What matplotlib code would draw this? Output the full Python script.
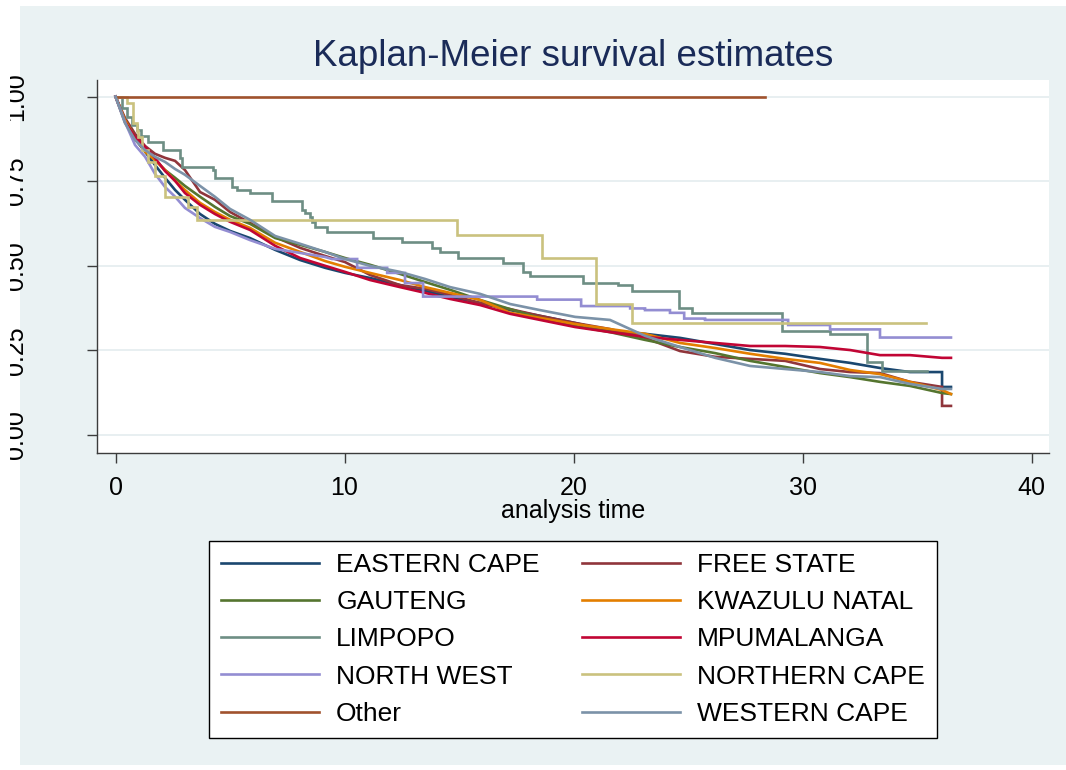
import matplotlib
matplotlib.use("Agg")
import matplotlib.pyplot as plt
from matplotlib.patches import Rectangle
from matplotlib.lines import Line2D
from matplotlib.transforms import Bbox, blended_transform_factory

plt.rcParams['font.family'] = ['Liberation Sans', 'DejaVu Sans']

# ---- survival estimates by province (analysis time, S(t)) ----
grid_t = [0, 0.41, 0.85, 1.29, 1.72, 2.16, 2.60, 3.03, 3.69, 4.34, 5.00, 5.87,
          6.97, 8.06, 9.15, 10.02, 11.11, 12.42, 13.52, 14.61, 15.92, 17.23,
          18.54, 20.07, 21.59, 23.12, 24.65, 26.18, 27.71, 29.24, 30.76, 32.08,
          33.38, 34.69, 36.09, 36.48]
drop_t = grid_t[:-1] + [36.09, 36.48]

ec_t = drop_t
ec_s = [1.0, 0.928, 0.875, 0.837, 0.798, 0.760, 0.724, 0.695, 0.653, 0.624, 0.603,
        0.582, 0.547, 0.517, 0.494, 0.479, 0.464, 0.443, 0.426, 0.408, 0.390, 0.369,
        0.352, 0.331, 0.307, 0.299, 0.287, 0.269, 0.251, 0.240, 0.225, 0.213, 0.198,
        0.186, 0.186, 0.142, 0.142]

fs_t = drop_t
fs_s = [1.0, 0.937, 0.890, 0.854, 0.831, 0.819, 0.810, 0.783, 0.718, 0.695, 0.659,
        0.627, 0.585, 0.553, 0.529, 0.511, 0.473, 0.443, 0.432, 0.414, 0.390, 0.372,
        0.352, 0.331, 0.313, 0.287, 0.248, 0.231, 0.225, 0.219, 0.195, 0.186, 0.183,
        0.157, 0.142, 0.086, 0.086]

gt_t = grid_t
gt_s = [1.0, 0.931, 0.881, 0.837, 0.813, 0.783, 0.760, 0.736, 0.704, 0.674, 0.647,
        0.624, 0.582, 0.562, 0.541, 0.523, 0.503, 0.476, 0.452, 0.429, 0.399, 0.372,
        0.346, 0.322, 0.304, 0.281, 0.260, 0.242, 0.219, 0.201, 0.183, 0.171, 0.157,
        0.145, 0.124, 0.121]

kzn_t = grid_t
kzn_s = [1.0, 0.931, 0.878, 0.837, 0.813, 0.783, 0.751, 0.724, 0.686, 0.659, 0.636,
         0.612, 0.568, 0.541, 0.514, 0.497, 0.479, 0.458, 0.437, 0.420, 0.399, 0.361,
         0.346, 0.328, 0.313, 0.299, 0.272, 0.257, 0.240, 0.225, 0.213, 0.192, 0.180,
         0.157, 0.133, 0.121]

mpu_t = grid_t
mpu_s = [1.0, 0.925, 0.881, 0.851, 0.819, 0.780, 0.751, 0.715, 0.680, 0.653, 0.630,
         0.606, 0.559, 0.523, 0.500, 0.482, 0.458, 0.437, 0.420, 0.402, 0.384, 0.358,
         0.340, 0.319, 0.304, 0.290, 0.281, 0.272, 0.263, 0.263, 0.260, 0.251, 0.236,
         0.236, 0.228, 0.228]

wc_t = grid_t
wc_s = [1.0, 0.922, 0.872, 0.842, 0.822, 0.807, 0.786, 0.769, 0.736, 0.704, 0.668,
        0.636, 0.588, 0.565, 0.541, 0.520, 0.500, 0.482, 0.461, 0.437, 0.417, 0.387,
        0.369, 0.349, 0.340, 0.293, 0.260, 0.228, 0.204, 0.195, 0.186, 0.174, 0.171,
        0.151, 0.136, 0.136]

nw_t = [0, 0.41, 0.85, 1.29, 1.72, 2.16, 2.60, 3.03, 3.69, 4.34, 5.00, 5.87, 6.97,
        8.06, 9.15, 9.45, 10.55, 10.55, 11.86, 11.86, 12.64, 12.64, 13.43, 13.43,
        18.41, 18.41, 20.33, 20.33, 22.47, 22.47, 23.12, 23.12, 24.21, 24.21, 24.83,
        24.83, 25.74, 25.74, 29.37, 29.37, 31.20, 31.20, 33.38, 33.38, 36.48]
nw_s = [1.0, 0.925, 0.857, 0.822, 0.772, 0.733, 0.704, 0.671, 0.641, 0.615, 0.600,
        0.576, 0.550, 0.538, 0.526, 0.520, 0.520, 0.494, 0.494, 0.479, 0.479, 0.449,
        0.449, 0.409, 0.409, 0.400, 0.400, 0.381, 0.381, 0.374, 0.374, 0.369, 0.369,
        0.361, 0.361, 0.344, 0.344, 0.340, 0.340, 0.325, 0.325, 0.312, 0.312, 0.288,
        0.288]

# sparse groups: event times and survival after each event
lim_t = [0, 0.28, 0.50, 0.72, 0.94, 1.11, 1.42, 2.07, 2.82, 2.90, 4.26, 4.34, 5.09,
         5.31, 5.87, 6.83, 8.14, 8.27, 8.49, 8.58, 8.71, 9.24, 11.24, 12.51, 13.82,
         14.17, 14.96, 16.92, 17.79, 18.10, 20.41, 21.94, 22.55, 24.61, 25.18, 29.11,
         31.20, 32.82, 33.48, 35.44]
lim_s = [1.0, 0.967, 0.940, 0.916, 0.902, 0.884, 0.867, 0.842, 0.818, 0.793, 0.783,
         0.759, 0.734, 0.724, 0.714, 0.690, 0.665, 0.655, 0.645, 0.630, 0.615, 0.601,
         0.581, 0.570, 0.552, 0.542, 0.522, 0.508, 0.483, 0.470, 0.450, 0.443, 0.426,
         0.375, 0.360, 0.308, 0.298, 0.217, 0.190, 0.190]

nc_t = [0, 0.49, 0.78, 0.93, 1.00, 1.14, 1.43, 1.72, 2.16, 3.18, 3.55, 14.90, 18.60,
        20.97, 22.57, 35.40]
nc_s = [1.0, 0.980, 0.921, 0.897, 0.882, 0.842, 0.808, 0.766, 0.704, 0.675, 0.636,
        0.591, 0.524, 0.386, 0.332, 0.332]

oth_t = [0, 28.36]
oth_s = [1.0, 1.0]

groups = ["EASTERN CAPE", "FREE STATE", "GAUTENG", "KWAZULU NATAL", "LIMPOPO",
          "MPUMALANGA", "NORTH WEST", "NORTHERN CAPE", "Other", "WESTERN CAPE"]
colors = ["#1A476F", "#90353B", "#55752F", "#E37E00", "#6E8E84",
          "#C10534", "#938DD2", "#CAC27E", "#A0522D", "#7B92A8"]
series = [(ec_t, ec_s, "default"), (fs_t, fs_s, "default"), (gt_t, gt_s, "default"),
          (kzn_t, kzn_s, "default"), (lim_t, lim_s, "steps-post"),
          (mpu_t, mpu_s, "default"), (nw_t, nw_s, "default"),
          (nc_t, nc_s, "steps-post"), (oth_t, oth_s, "steps-post"),
          (wc_t, wc_s, "default")]

W, H = 1066, 770
LW = 1.9
fig = plt.figure(figsize=(W / 100, H / 100), dpi=100, facecolor="white")
fig.patches.append(Rectangle((20 / W, 5 / H), 1 - 20 / W, 1 - 11 / H,
                             transform=fig.transFigure, facecolor="#EAF2F3",
                             edgecolor="none", zorder=-10))

ax = fig.add_axes([97 / W, 1 - 452.6 / H, (1049 - 97) / W, (452.6 - 80) / H])
ax.set_zorder(1)
ax.set_facecolor("white")
ax.set_xlim(-0.81, 40.76)
ax.set_ylim(-0.052, 1.049)

for (t, s, ds), c in zip(series, colors):
    ax.plot(t, s, color=c, lw=LW, drawstyle=ds, solid_joinstyle="miter")

ax.set_axisbelow(True)
ax.set_yticks([0, 0.25, 0.5, 0.75, 1.0])
ax.set_xticks([0, 10, 20, 30, 40])
ax.yaxis.grid(True, color="#E6EEF0", lw=1.3)
for side in ("top", "right"):
    ax.spines[side].set_visible(False)
for side in ("left", "bottom"):
    ax.spines[side].set_color("#3C3C3C")
    ax.spines[side].set_linewidth(1.0)
ax.tick_params(axis="both", direction="out", length=7.5, width=1.0, color="#3C3C3C")
ax.tick_params(axis="x", labelsize=18, pad=9)
ax.tick_params(axis="y", labelleft=False)

# vertical y tick labels at the far left edge
ytr = blended_transform_factory(fig.transFigure, ax.transData)
for v in [0, 0.25, 0.5, 0.75, 1.0]:
    txt = fig.text(28 / W, v, f"{v:.2f}", transform=ytr, rotation=90,
                   ha="right", va="center", fontsize=18)
    txt.set_clip_box(Bbox.from_extents(10, 0, W, H))
    txt.set_clip_on(True)

fig.text(573 / W, 1 - 511 / H, "analysis time", ha="center", va="center", fontsize=18)
fig.text(573 / W, 1 - 56 / H, "Kaplan-Meier survival estimates", ha="center",
         va="center", fontsize=26.5, color="#1A2B58")

handles = [Line2D([], [], color=c, lw=LW) for c in colors]
order = [0, 2, 4, 6, 8, 1, 3, 5, 7, 9]
leg = fig.legend([handles[i] for i in order], [groups[i] for i in order], ncol=2,
                 loc="center", bbox_to_anchor=(573 / W, 1 - 639.5 / H), fontsize=19,
                 frameon=True, fancybox=False, edgecolor="black", framealpha=1,
                 handlelength=3.7, handletextpad=0.65, columnspacing=1.6,
                 labelspacing=0.5, borderpad=0.45)
leg.get_frame().set_linewidth(1.0)

fig.savefig("out.png", dpi=100, facecolor="white")
